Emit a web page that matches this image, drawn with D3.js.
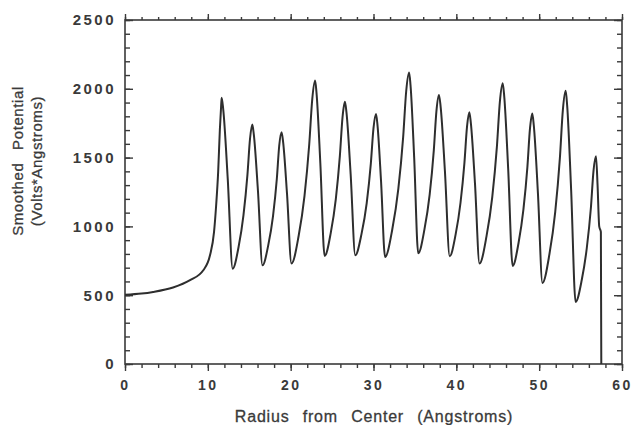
<!DOCTYPE html>
<html>
<head>
<meta charset="utf-8">
<script src="https://cdn.jsdelivr.net/npm/d3@7"></script>
<style>
  body { margin: 0; background: #fff; }
  svg { display: block; }
  text { font-family: "Liberation Sans", Arial, sans-serif; fill: #3a3a3a; }
</style>
</head>
<body>
<svg width="632" height="425"></svg>
<script>
const svg = d3.select("svg");

// values
const radius = [0, 2, 3.4, 5.8, 7.85, 9.45, 10.26, 10.75, 11.0, 11.25, 11.45, 11.6, 11.67,
  11.87, 12.4, 13.0,
  13.71, 14.3, 14.78, 15.09, 15.37,
  15.55, 16.05, 16.6,
  17.29, 17.87, 18.33, 18.62, 18.9,
  19.08, 19.56, 20.1,
  20.96, 21.67, 22.24, 22.61, 22.95,
  23.12, 23.58, 24.1,
  24.84, 25.45, 25.94, 26.26, 26.55,
  26.74, 27.24, 27.8,
  28.55, 29.18, 29.68, 30.0, 30.3,
  30.47, 30.91, 31.4,
  32.27, 33.0, 33.58, 33.95, 34.3,
  34.47, 34.91, 35.4,
  36.15, 36.78, 37.28, 37.6, 37.9,
  38.1, 38.62, 39.2,
  39.91, 40.5, 40.98, 41.29, 41.57,
  41.75, 42.25, 42.8,
  43.64, 44.34, 44.9, 45.26, 45.6,
  45.78, 46.26, 46.8,
  47.51, 48.1, 48.58, 48.89, 49.17,
  49.35, 49.85, 50.4,
  51.24, 51.94, 52.5, 52.86, 53.2,
  53.38, 53.86, 54.4,
  55.14, 55.75, 56.25, 56.56, 56.86,
  57.05, 57.25, 57.45, 57.5];

const potential = [503, 512, 524, 556, 609, 681, 790, 960, 1150, 1400, 1700, 1870, 1935,
  1843, 1349, 693,
  850, 1080, 1374, 1635, 1740,
  1668, 1259, 717,
  862, 1075, 1346, 1588, 1685,
  1618, 1236, 730,
  930, 1222, 1595, 1927, 2060,
  1971, 1461, 785,
  953, 1199, 1513, 1793, 1905,
  1827, 1381, 790,
  944, 1170, 1458, 1714, 1817,
  1744, 1329, 778,
  979, 1274, 1649, 1984, 2118,
  2026, 1501, 805,
  978, 1231, 1553, 1840, 1955,
  1873, 1404, 783,
  940, 1170, 1464, 1725, 1830,
  1753, 1313, 730,
  927, 1215, 1582, 1909, 2040,
  1947, 1416, 713,
  879, 1123, 1433, 1710, 1821,
  1735, 1242, 589,
  798, 1106, 1496, 1845, 1985,
  1878, 1264, 451,
  610, 843, 1139, 1404, 1510,
  1300, 1000, 960, 0];

const xTicks = [0, 10, 20, 30, 40, 50, 60];
const yTicks = [0, 500, 1000, 1500, 2000, 2500];

const m = {left: 125, right: 622, top: 20, bottom: 364};

const x = d3.scaleLinear().domain([0, 60]).range([m.left, m.right]);
const y = d3.scaleLinear().domain([0, 2500]).range([m.bottom, m.top]);

const ink = "#3a3a3a";

// minor ticks every 2 on x, every 100 on y
const xMinor = d3.range(0, 60.01, 2);
const yMinor = d3.range(0, 2500.01, 100);

function styleAxis(g) {
  g.select(".domain").remove();
  g.selectAll("line").attr("stroke", ink).attr("stroke-width", 1.4);
}

// bottom: outward ticks with labels
svg.append("g")
  .attr("transform", `translate(0,${m.bottom})`)
  .call(d3.axisBottom(x).tickValues(xMinor).tickSize(4).tickFormat(""))
  .call(styleAxis);
svg.append("g")
  .attr("transform", `translate(0,${m.bottom})`)
  .call(d3.axisBottom(x).tickValues(xTicks).tickSize(7).tickPadding(9).tickFormat(d3.format("d")))
  .call(styleAxis)
  .call(g => g.selectAll("text")
    .attr("font-size", 14).attr("font-weight", "bold")
    .attr("letter-spacing", "2.5px").attr("fill", ink));

// top: outward ticks, no labels
svg.append("g")
  .attr("transform", `translate(0,${m.top})`)
  .call(d3.axisTop(x).tickValues(xMinor).tickSize(3).tickFormat(""))
  .call(styleAxis);
svg.append("g")
  .attr("transform", `translate(0,${m.top})`)
  .call(d3.axisTop(x).tickValues(xTicks).tickSize(6).tickFormat(""))
  .call(styleAxis);

// left: inward ticks, labels outside
svg.append("g")
  .attr("transform", `translate(${m.left},0)`)
  .call(d3.axisRight(y).tickValues(yMinor).tickSize(5).tickFormat(""))
  .call(styleAxis);
svg.append("g")
  .attr("transform", `translate(${m.left},0)`)
  .call(d3.axisRight(y).tickValues(yTicks).tickSize(8).tickFormat(""))
  .call(styleAxis);
svg.append("g")
  .selectAll("text")
  .data(yTicks)
  .join("text")
    .attr("x", 116)
    .attr("y", d => y(d))
    .attr("dy", "0.36em")
    .attr("text-anchor", "end")
    .attr("font-size", 15)
    .attr("font-weight", "bold")
    .attr("letter-spacing", "2.5px")
    .text(d => d);

// right: inward ticks
svg.append("g")
  .attr("transform", `translate(${m.right},0)`)
  .call(d3.axisLeft(y).tickValues(yMinor).tickSize(5).tickFormat(""))
  .call(styleAxis);
svg.append("g")
  .attr("transform", `translate(${m.right},0)`)
  .call(d3.axisLeft(y).tickValues(yTicks).tickSize(8).tickFormat(""))
  .call(styleAxis);

// frame
svg.append("rect")
  .attr("x", m.left).attr("y", m.top)
  .attr("width", m.right - m.left).attr("height", m.bottom - m.top)
  .attr("fill", "none").attr("stroke", ink).attr("stroke-width", 1.6);

// the curve
const line = d3.line()
  .x((d, i) => x(radius[i]))
  .y(d => y(d))
  .curve(d3.curveMonotoneX);

svg.append("path")
  .datum(potential)
  .attr("fill", "none")
  .attr("stroke", "#2e2e2e")
  .attr("stroke-width", 2)
  .attr("stroke-linejoin", "round")
  .attr("d", line);

// axis titles
svg.append("text")
  .attr("x", 374)
  .attr("y", 422)
  .attr("text-anchor", "middle")
  .attr("font-size", 16)
  .attr("stroke", ink)
  .attr("stroke-width", 0.3)
  .attr("letter-spacing", "0.8px")
  .attr("word-spacing", "8px")
  .text("Radius from Center (Angstroms)");

const yTitle = svg.append("g").attr("transform", "translate(0,161) rotate(-90)");
yTitle.append("text")
  .attr("x", 0).attr("y", 23)
  .attr("text-anchor", "middle")
  .attr("font-size", 15)
  .attr("stroke", ink)
  .attr("stroke-width", 0.3)
  .attr("letter-spacing", "0.6px")
  .attr("word-spacing", "8px")
  .text("Smoothed Potential");
yTitle.append("text")
  .attr("x", 0).attr("y", 42)
  .attr("text-anchor", "middle")
  .attr("font-size", 15)
  .attr("stroke", ink)
  .attr("stroke-width", 0.3)
  .attr("letter-spacing", "0.6px")
  .text("(Volts*Angstroms)");
</script>
</body>
</html>
